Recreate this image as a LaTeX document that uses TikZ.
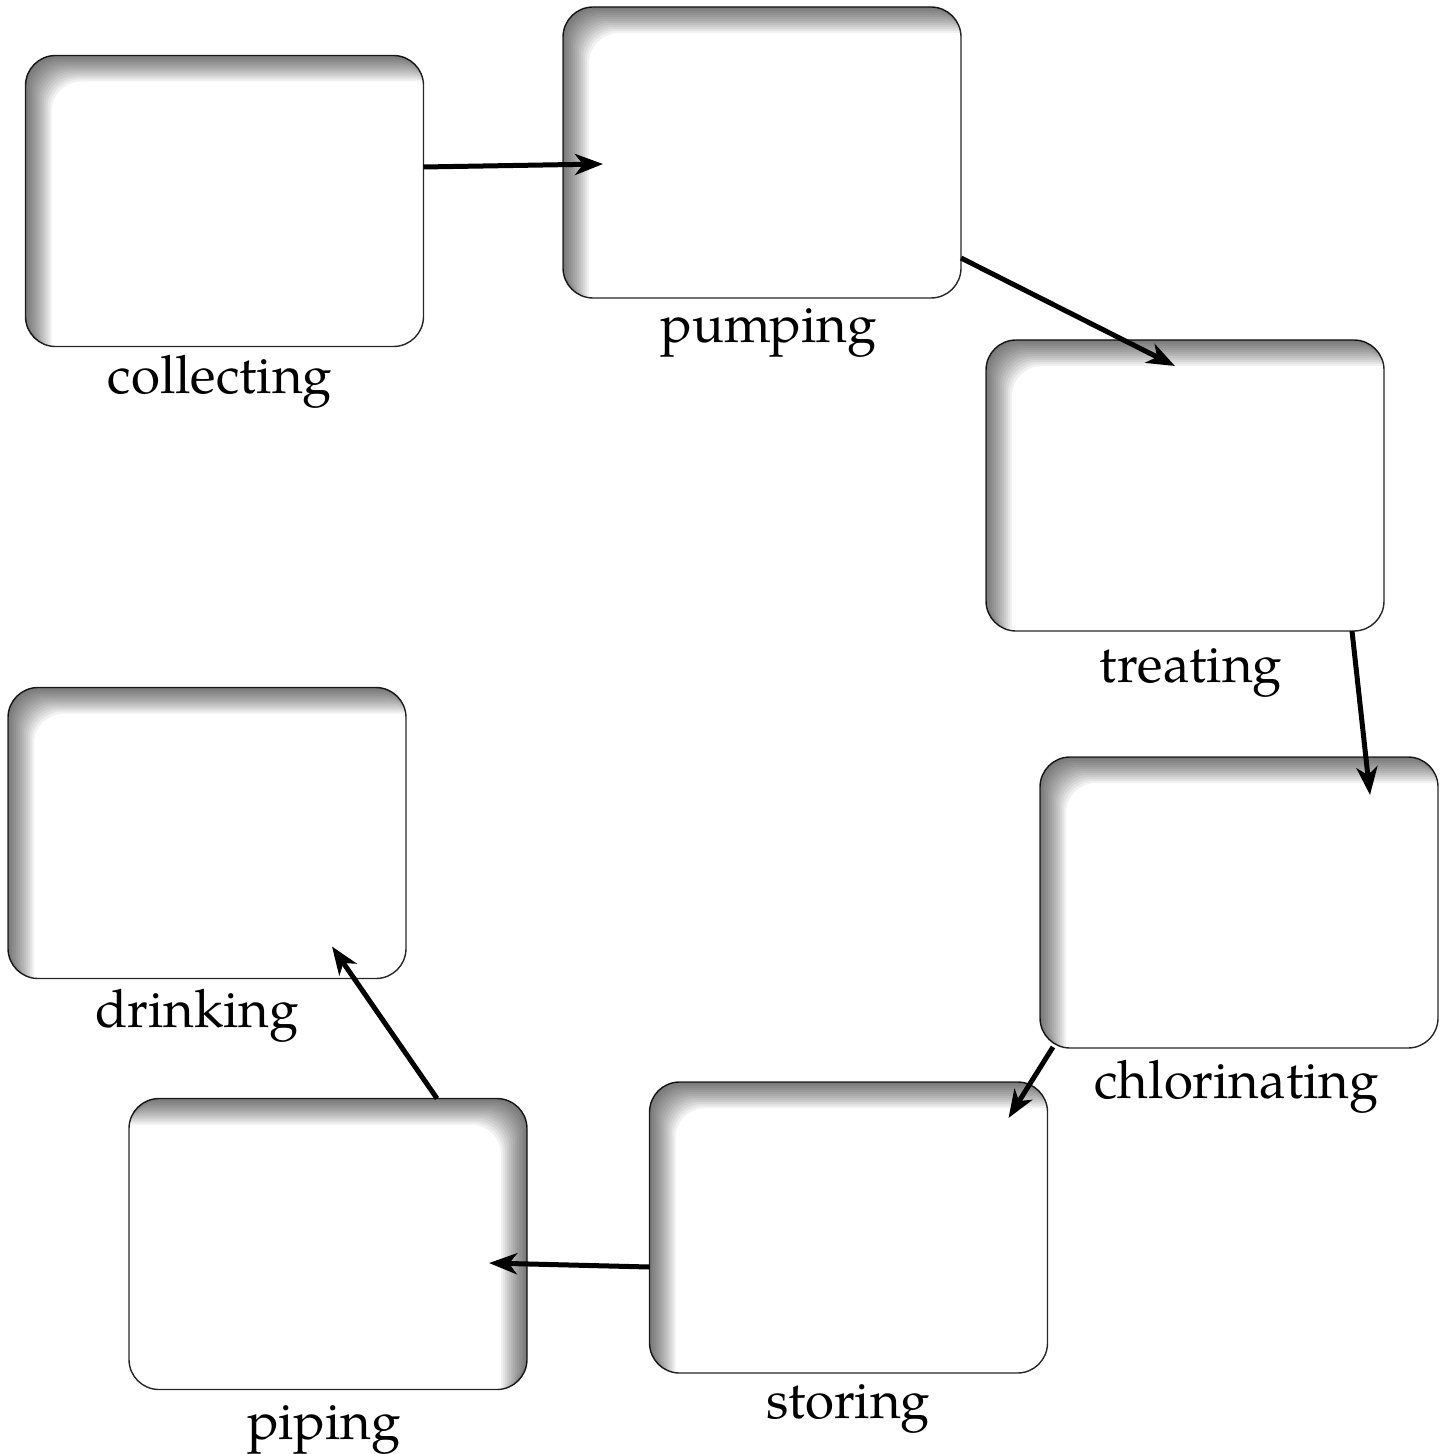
\documentclass[tikz,border=0pt]{standalone}
\usepackage{fontspec}
\setmainfont{TeX Gyre Pagella}
\usetikzlibrary{positioning, calc, arrows.meta}

\tikzset{
	stage/.style = {draw = black!85, line width = 0.7pt, rounded corners = 15pt, minimum width = 199pt, minimum height = 145.5pt, inner sep = 0pt, outer sep = 0pt},
	caption/.style = {font = \fontsize{26.4}{32}\selectfont, inner sep = 0pt, anchor = base},
	flow/.style = {line width = 2.5pt, -{Stealth[length = 14pt, width = 10.5pt, inset = 4pt]}}
}

\begin{document}
\begin{tikzpicture}[x = 0.5pt, y = -0.5pt]
	
		\useasboundingbox (0, 0) rectangle (1447, 1454);
		
		\node[stage] (collecting) at (224.5, 201) {};
		\node[stage] (pumping) at (762, 152.5) {};
		\node[stage] (treating) at (1185, 485.5) {};
		\node[stage] (chlorinating) at (1239, 902.5) {};
		\node[stage] (storing) at (848.5, 1227.5) {};
		\node[stage] (piping) at (328, 1244) {};
		\node[stage] (drinking) at (207, 833) {};
		
		\node[below = 23.5pt of collecting, caption, xshift = -2.25pt] (collecting-text) {collecting};
		\node[below = 22.5pt of pumping, caption, xshift = 3.25pt] (pumping-text) {pumping};
		\node[below = 25.5pt of treating, caption, xshift = 3pt] (treating-text) {treating};
		\node[below = 25pt of chlorinating, caption, xshift = -1.25pt] (chlorinating-text) {chlorinating};
		\node[below = 22.5pt of storing, caption] (storing-text) {storing};
		\node[below = 25pt of piping, caption, xshift = -2pt] (piping-text) {piping};
		\node[below = 24.5pt of drinking, caption, xshift = -5pt] (drinking-text) {drinking};
		
		% inner shadows
		\foreach \n/\d in {collecting/1, pumping/1, treating/1, chlorinating/1, storing/1, piping/-1, drinking/1} {
			\begin{scope}
				\clip[rounded corners = 15pt] (\n.north west) rectangle (\n.south east);
				\foreach \s in {2, 4, ..., 26}
					\fill[black, opacity = 0.055, even odd rule] ($(\n.north west) + (-60, -60)$) rectangle ($(\n.south east) + (60, 60)$) [rounded corners = 15pt] ($(\n.north west) + (\d * \s, \s)$) rectangle ($(\n.south east) + (\d * \s, \s)$);
			\end{scope}
		}
		
		\draw[flow] ($(collecting.east) + (0, -34)$) -- ($(pumping.west) + (40, 11.5)$);
		\draw[flow] ($(pumping.south east) + (0, -40)$) -- ($(treating.north) + (-10, 26)$);
		\draw[flow] ($(treating.south east) + (-32, 0)$) -- ($(chlorinating.north east) + (-68, 38)$);
		\draw[flow] ($(chlorinating.south west) + (13, -1)$) -- ($(storing.north east) + (-39, 36)$);
		\draw[flow] ($(storing.west) + (0, 39.5)$) -- ($(piping.east) + (-38, 19)$);
		\draw[flow] ($(piping.north) + (109, 0)$) -- ($(drinking.south east) + (-74, -32)$);
		
	\end{tikzpicture}
\end{document}
